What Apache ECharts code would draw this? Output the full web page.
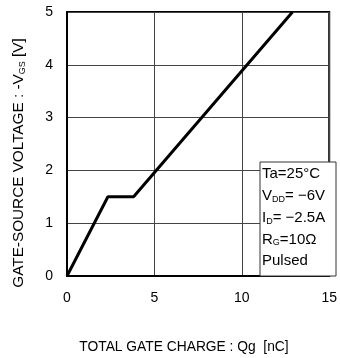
<!DOCTYPE html>
<html><head><meta charset="utf-8">
<script src="https://cdn.jsdelivr.net/npm/echarts@6/dist/echarts.min.js"></script>
<style>html,body{margin:0;padding:0;background:#fff}#c{width:340px;height:358px}</style>
</head><body><div id="c"></div>
<script>
const qg = [0, 2.34, 3.81, 12.9];
const vgs = [0, 1.5, 1.5, 5];
const xTicks = [0, 5, 10, 15];
const yTicks = [0, 1, 2, 3, 4, 5];
const conditions = ['Ta=25°C', 'V{s|DD}= −6V', 'I{s|D}= −2.5A', 'R{s|G}=10Ω', 'Pulsed'];
const xTitle = 'TOTAL GATE CHARGE : Qg  [nC]';
const yTitle = 'GATE-SOURCE VOLTAGE : -V{s|GS} [V]';

const FONT = 'Liberation Sans, Arial, sans-serif';
const rich = {
  s: {fontSize: 9, fontFamily: FONT, color: '#000', verticalAlign: 'bottom', lineHeight: 16, padding: [6,0,0,0]}
};
const chart = echarts.init(document.getElementById('c'));
const condTexts = conditions.map((t, i) => ({
  type: 'text', x: 262, y: 174 + i * 21.8, z: 11,
  style: {text: t, font: '15px ' + FONT, fill: '#000', rich: rich, verticalAlign: 'middle'}
}));
chart.setOption({
  animation: false,
  grid: {left: 67, right: 8, top: 12, bottom: 82, show: true, borderColor: '#000', borderWidth: 2},
  xAxis: {
    type: 'value', min: xTicks[0], max: xTicks[xTicks.length-1], interval: 5,
    axisLine: {show: true, lineStyle: {color: '#000', width: 2}},
    axisTick: {show: false},
    axisLabel: {color: '#000', fontSize: 14, fontFamily: FONT, margin: 15},
    splitLine: {show: true, lineStyle: {color: '#444', width: 1}}
  },
  yAxis: {
    type: 'value', min: yTicks[0], max: yTicks[yTicks.length-1], interval: 1,
    axisLine: {show: true, lineStyle: {color: '#000', width: 2}},
    axisTick: {show: false},
    axisLabel: {color: '#000', fontSize: 14, fontFamily: FONT, margin: 14},
    splitLine: {show: true, lineStyle: {color: '#444', width: 1}}
  },
  graphic: [
    {type: 'text', x: 184, y: 347, style: {text: xTitle, font: '13.8px ' + FONT, fill: '#000', align: 'center', verticalAlign: 'middle'}},
    {type: 'text', x: 19, y: 163, rotation: Math.PI / 2,
     style: {text: yTitle, font: '15.3px ' + FONT, fill: '#000', rich: rich, align: 'center', verticalAlign: 'middle'}},
    {type: 'rect', x: 260, y: 162, z: 10, shape: {x: 0, y: 0, width: 76, height: 114},
     style: {fill: '#fff', stroke: '#333', lineWidth: 1}},
    ...condTexts
  ],
  series: [{
    type: 'line', data: qg.map((x, i) => [x, vgs[i]]), symbol: 'none',
    lineStyle: {color: '#000', width: 3}, z: 5
  }]
});
</script></body></html>
